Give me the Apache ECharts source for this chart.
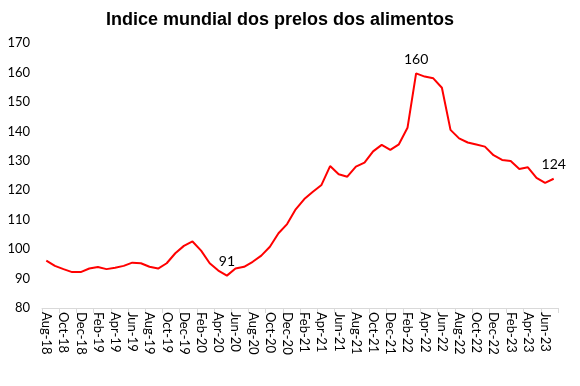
<!DOCTYPE html>
<html>
<head>
<meta charset="utf-8">
<script src="https://cdn.jsdelivr.net/npm/echarts@6/dist/echarts.min.js"></script>
<style>
html,body{margin:0;padding:0;background:#fff;}
#chart{width:580px;height:386px;}
</style>
</head>
<body>
<div id="chart"></div>
<script>
var titleText = "Indice mundial dos prelos dos alimentos";
var months = [
  "Aug-18","Sep-18","Oct-18","Nov-18","Dec-18",
  "Jan-19","Feb-19","Mar-19","Apr-19","May-19","Jun-19","Jul-19","Aug-19","Sep-19","Oct-19","Nov-19","Dec-19",
  "Jan-20","Feb-20","Mar-20","Apr-20","May-20","Jun-20","Jul-20","Aug-20","Sep-20","Oct-20","Nov-20","Dec-20",
  "Jan-21","Feb-21","Mar-21","Apr-21","May-21","Jun-21","Jul-21","Aug-21","Sep-21","Oct-21","Nov-21","Dec-21",
  "Jan-22","Feb-22","Mar-22","Apr-22","May-22","Jun-22","Jul-22","Aug-22","Sep-22","Oct-22","Nov-22","Dec-22",
  "Jan-23","Feb-23","Mar-23","Apr-23","May-23","Jun-23","Jul-23"
];
var index = [
  96.1, 94.3, 93.2, 92.2, 92.2,
  93.4, 93.9, 93.2, 93.7, 94.3, 95.4, 95.2, 94.0, 93.4, 95.2, 98.6, 101.1,
  102.6, 99.5, 95.2, 92.7, 91.0, 93.4, 94.0, 95.7, 97.8, 100.8, 105.4, 108.5,
  113.5, 117.0, 119.5, 121.8, 128.2, 125.4, 124.6, 128.0, 129.4, 133.2, 135.4, 133.7,
  135.6, 141.2, 159.7, 158.6, 158.0, 154.8, 140.5, 137.6, 136.2, 135.5, 134.8, 131.9,
  130.3, 129.9, 127.2, 127.8, 124.2, 122.5, 123.9
];
var labelledPoints = { "May-20": "91", "Mar-22": "160", "Jul-23": "124" };
var yMin = 80, yMax = 170, yStep = 10;

var seriesData = index.map(function (v, i) {
  var lab = labelledPoints[months[i]];
  if (lab) {
    return { value: v, label: { show: true, formatter: lab } };
  }
  return v;
});

var chart = echarts.init(document.getElementById('chart'), null, { renderer: 'canvas' });
chart.setOption({
  animation: false,
  backgroundColor: '#ffffff',
  title: {
    text: titleText,
    left: 275,
    textAlign: 'center',
    top: 6,
    textStyle: { fontFamily: 'Liberation Sans', fontWeight: 'bold', fontSize: 18, color: '#000' }
  },
  grid: { left: 42, right: 22, top: 43, bottom: 78, containLabel: false },
  xAxis: {
    type: 'category',
    data: months,
    boundaryGap: true,
    axisLine: { show: true, lineStyle: { color: '#d9d9d9', width: 1 } },
    axisTick: { show: true, interval: 1, length: 5, lineStyle: { color: '#d9d9d9' } },
    axisLabel: {
      interval: 1,
      rotate: -90,
      margin: 4,
      fontFamily: 'Lato',
      fontSize: 13,
      color: '#000'
    },
    splitLine: { show: false }
  },
  yAxis: {
    type: 'value',
    min: yMin,
    max: yMax,
    interval: yStep,
    axisLine: { show: false },
    axisTick: { show: false },
    splitLine: { show: false },
    axisLabel: { fontFamily: 'Lato', fontSize: 13, color: '#000', margin: 12 }
  },
  series: [{
    type: 'line',
    data: seriesData,
    showSymbol: true,
    symbol: 'circle',
    symbolSize: 0,
    lineStyle: { color: '#ff0000', width: 2 },
    itemStyle: { color: '#ff0000' },
    label: {
      show: false,
      position: 'top',
      distance: 7,
      fontFamily: 'Lato',
      fontSize: 14,
      color: '#000'
    }
  }]
});
</script>
</body>
</html>
